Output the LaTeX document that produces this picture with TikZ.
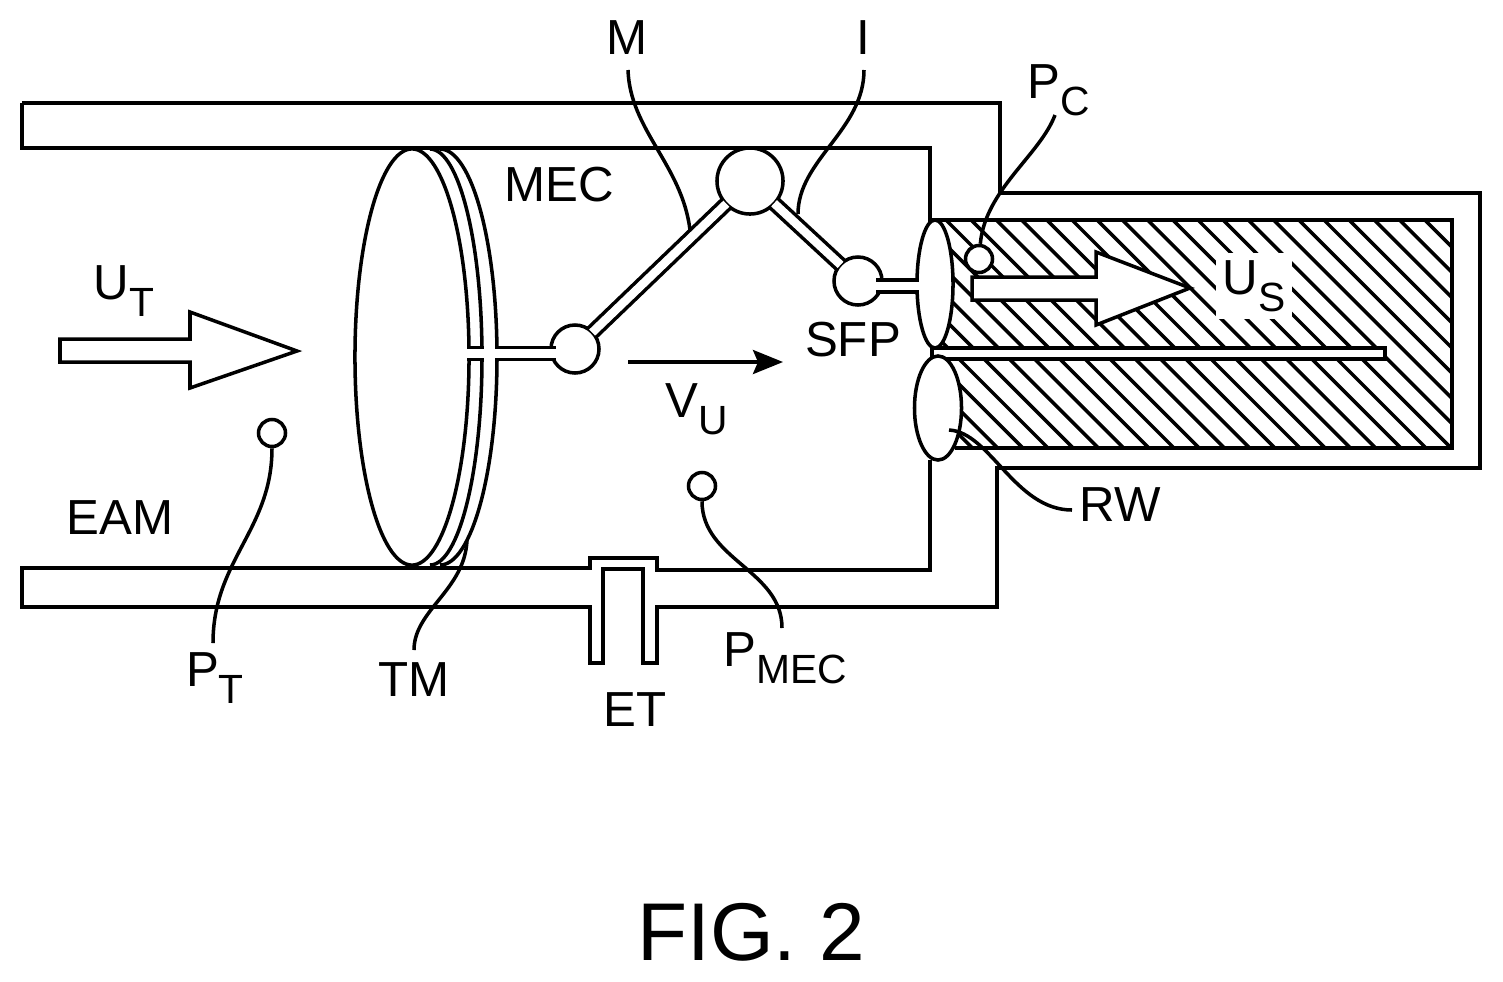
\documentclass[tikz,border=0pt]{standalone}
\usepackage{fontspec}
\setmainfont{Liberation Sans}
\usetikzlibrary{shapes.geometric,arrows.meta}
\tikzstyle{lbl}=[inner sep=0pt,font=\fontsize{14pt}{14pt}\selectfont]
\tikzstyle{wall}=[line width=1pt,draw=black]
\tikzstyle{rod}=[line width=1pt,double=white,double distance=0.085cm]
\tikzstyle{pnt}=[circle,fill=white,draw=black,line width=1pt,inner sep=0pt,minimum size=0.27cm]
\tikzstyle{oss}=[circle,fill=white,draw=black,line width=1pt,inner sep=0pt,minimum size=0.48cm]
\tikzstyle{win}=[ellipse,fill=white,draw=black,line width=1pt,inner sep=0pt]
\tikzstyle{lead}=[line width=1pt]
\tikzstyle{flow}=[fill=white,draw=black,line width=1pt,line join=miter]
\newcommand{\lab}[2]{#1\raisebox{-4.8pt}{\fontsize{11.6pt}{11.6pt}\selectfont #2}}

\begin{document}
\begin{tikzpicture}[x=0.01cm,y=-0.01cm]
    \useasboundingbox (0,0) rectangle (1503,981);
    \fill [white] (0,0) rectangle (1503,981);
    % hatching
    \begin{scope}
        \clip (930,220) rectangle (1452,448);
        \foreach \k in {-9,...,20} {
            \draw [lead] ({726+25.2*\k+200},200) -- ({726+25.2*\k+480},480);
        }
    \end{scope}
    % walls
    \draw [style=wall] (22,103) -- (1000,103) -- (1000,193) -- (1480,193) -- (1480,468) -- (997,468)
        -- (997,607) -- (657,607) -- (657,663) -- (643,663) -- (643,569) -- (603,569) -- (603,663)
        -- (590,663) -- (590,607) -- (22,607) -- (22,568) -- (590,568) -- (590,558) -- (657,558)
        -- (657,570) -- (930,570) -- (930,460);
    \draw [style=wall] (22,103) -- (22,148) -- (930,148) -- (930,220) -- (1452,220) -- (1452,448) -- (955,448);
    \draw [style=wall, fill=white] (932,348) -- (1385,348) -- (1385,359) -- (932,359);
    \draw [style=wall] (932,340) -- (932,362);
    % eardrum
    \node [style=win, minimum width=1.14cm, minimum height=4.16cm] (tm) at (412,357) {};
    \draw [style=wall] (430,149) arc (-90:90:52 and 208);
    \draw [style=wall] (440,149) arc (-90:90:57 and 208);
    % windows and bones
    \node [style=win, minimum width=0.36cm, minimum height=1.28cm] (ow) at (935,284) {};
    \node [style=win, minimum width=0.47cm, minimum height=1.04cm] (rw) at (938,408) {};
    \node [style=oss] (mal) at (575,349) {};
    \node [style=oss, minimum size=0.66cm] (inc) at (750,181) {};
    \node [style=oss] (sta) at (858,281) {};
    \coordinate (a1) at (467,353.5);
    \coordinate (a2) at (484,353.5);
    \coordinate (a3) at (495,353.5);
    \coordinate (a4) at (556,353.5);
    \coordinate (b1) at (876,286);
    \coordinate (b2) at (919,286);
    \draw [style=rod] (a1) to (a2);
    \draw [style=rod] (a3) to (a4);
    \draw [style=rod, shorten <=-0.02cm, shorten >=-0.02cm] (mal) to (inc);
    \draw [style=rod, shorten <=-0.02cm, shorten >=-0.02cm] (inc) to (sta);
    \draw [style=rod] (b1) to (b2);
    % flow arrows
    \draw [style=flow] (60,339) -- (190,339) -- (190,312) -- (297,351) -- (190,388) -- (190,362) -- (60,362) -- cycle;
    \draw [style=flow] (972,277) -- (1096,277) -- (1096,252) -- (1190,288) -- (1096,325) -- (1096,300) -- (972,300) -- cycle;
    \coordinate (v1) at (628,362);
    \coordinate (v2) at (783,362);
    \draw [lead, -{Stealth[length=0.3cm,width=0.24cm,inset=0.05cm]}] (v1) to (v2);
    % pressure points
    \node [style=pnt] (pc) at (979,259) {};
    \node [style=pnt] (pt) at (272,433) {};
    \node [style=pnt] (pm) at (702,486) {};
    % labels
    \node [style=lbl] (lm) at (627,38) {M};
    \node [style=lbl] (li) at (863,38) {I};
    \node [style=lbl] (lpc) at (1059,90) {\lab{P}{C}};
    \node [style=lbl] (lmec) at (559,185) {MEC};
    \node [style=lbl] (lut) at (124,291) {\lab{U}{T}};
    \node [style=lbl] (lsfp) at (853,340) {SFP};
    \node [style=lbl, fill=white, inner sep=2pt] (lus) at (1254,286) {\lab{U}{S}};
    \node [style=lbl] (lvu) at (697,409) {\lab{V}{U}};
    \node [style=lbl] (lrw) at (1120,505) {RW};
    \node [style=lbl] (leam) at (120,518) {EAM};
    \node [style=lbl] (lpt) at (215,678) {\lab{P}{T}};
    \node [style=lbl] (ltm) at (414,680) {TM};
    \node [style=lbl] (let) at (635,710) {ET};
    \node [style=lbl] (lpm) at (785,658) {\lab{P}{MEC}};
    \node [style=lbl, font=\fontsize{23.3pt}{23.3pt}\selectfont] (lfig) at (751,932) {FIG. 2};
    % leaders
    \coordinate (cm) at (690,230);
    \coordinate (ci) at (798,214);
    \coordinate (ctm) at (467,540);
    \coordinate (crw) at (949,430);
    \draw [lead] (628,70) .. controls (630,130) and (682,165) .. (cm);
    \draw [lead] (864,70) .. controls (864,130) and (798,160) .. (ci);
    \draw [lead] (1055,115) .. controls (1040,155) and (985,190) .. (pc);
    \draw [lead] (pt) .. controls (272,530) and (213,560) .. (213,643);
    \draw [lead] (ctm) .. controls (465,590) and (414,610) .. (414,650);
    \draw [lead] (pm) .. controls (702,560) and (782,570) .. (782,628);
    \draw [lead] (crw) .. controls (990,432) and (1015,510) .. (1072,510);
\end{tikzpicture}
\end{document}
